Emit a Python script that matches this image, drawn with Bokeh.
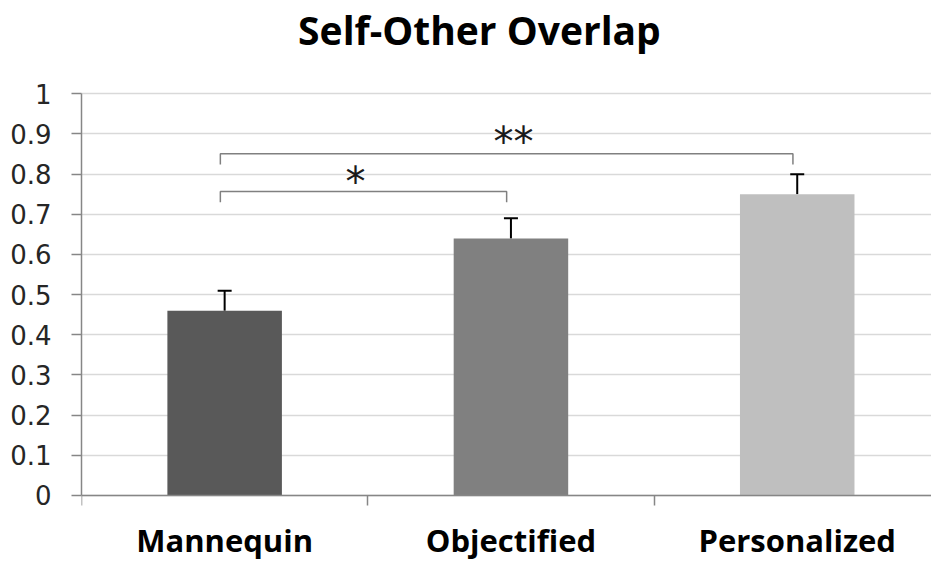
from bokeh.plotting import figure
from bokeh.models import (Range1d, FixedTicker, CustomJSTickFormatter, Whisker,
                          TeeHead, ColumnDataSource, LinearAxis, Label)
from bokeh.core.properties import value
from bokeh.embed import file_html
from bokeh.resources import INLINE

# Data
categories = ["Mannequin", "Objectified", "Personalized"]
means = [0.46, 0.64, 0.75]
errors = [0.05, 0.05, 0.05]
bar_colors = ["#595959", "#808080", "#bfbfbf"]
y_ticks = [0, 0.1, 0.2, 0.3, 0.4, 0.5, 0.6, 0.7, 0.8, 0.9, 1.0]

# Significance brackets: (from category, to category, bracket height, label)
bracket_from = [0, 0]
bracket_to = [1, 2]
bracket_y = [0.757, 0.851]
bracket_labels = ["*", "**"]
star_x = [0.957, 1.509]
star_y = [0.781, 0.881]

title_text = "Self-Other Overlap"

centers = [i + 0.5 for i in range(len(categories))]

# The frame fills the canvas; the value axis is bounded to 0..1 and the
# category axis sits at y = 0, leaving room for the title and names.
p = figure(width=931, height=562, output_backend="svg", toolbar_location=None,
           title=None,
           x_range=Range1d(0, 2.969), y_range=Range1d(-0.1668, 1.2323),
           min_border_left=81, min_border_right=0, min_border_top=0,
           min_border_bottom=0, x_axis_location=None, y_axis_location=None)
p.outline_line_color = None
p.background_fill_color = "white"
p.border_fill_color = "white"

# Y axis
yax = LinearAxis(ticker=FixedTicker(ticks=y_ticks), bounds=(0, 1),
                 formatter=CustomJSTickFormatter(code="return String(+tick.toFixed(1))"))
yax.axis_line_color = "#868686"
yax.axis_line_width = 1.5
yax.major_tick_line_color = "#868686"
yax.major_tick_line_width = 1.5
yax.major_tick_out = 10
yax.major_tick_in = 0
yax.minor_tick_line_color = None
yax.major_label_standoff = 20
yax.major_label_text_font = "DejaVu Sans"
yax.major_label_text_font_size = "26px"
yax.major_label_text_color = "#262626"
p.add_layout(yax, "left")

# X axis at y = 0: category names at centers, tick marks at boundaries
xax = LinearAxis(ticker=FixedTicker(ticks=centers, minor_ticks=[0, 1, 2, 3]),
                 fixed_location=0,
                 major_label_overrides={c: n for c, n in zip(centers, categories)})
xax.axis_line_color = "#868686"
xax.axis_line_width = 1.5
xax.major_tick_line_color = None
xax.major_tick_out = 0
xax.major_tick_in = 0
xax.minor_tick_line_color = "#868686"
xax.minor_tick_line_width = 1.5
xax.minor_tick_out = 10
xax.minor_tick_in = 0
xax.major_label_standoff = 14
xax.major_label_text_font = "Open Sans"
xax.major_label_text_font_style = "bold"
xax.major_label_text_font_size = "31px"
xax.major_label_text_color = "#000000"
p.add_layout(xax, "below")

# Title
p.add_layout(Label(x=1.39, y=1.161, text=title_text, text_align="center",
                   text_baseline="alphabetic", text_font="Open Sans",
                   text_font_style="bold", text_font_size="39px",
                   text_color="#000000"))

# Grid
p.ygrid.ticker = FixedTicker(ticks=y_ticks)
p.ygrid.grid_line_color = "#d9d9d9"
p.ygrid.grid_line_width = 1.5
p.xgrid.grid_line_color = None

# Bars
src = ColumnDataSource(dict(x=centers, top=means, color=bar_colors,
                            upper=[m + e for m, e in zip(means, errors)]))
p.vbar(x="x", top="top", bottom=0, width=0.4, fill_color="color",
       line_color=None, source=src)

# Error bars (upper only)
whisk = Whisker(base="x", lower="top", upper="upper", source=src,
                line_color="black", line_width=2,
                upper_head=TeeHead(size=14, line_color="black", line_width=2),
                lower_head=None)
p.add_layout(whisk)

# Brackets
shift = -0.015
bxs, bys = [], []
for a, b, y in zip(bracket_from, bracket_to, bracket_y):
    xa, xb = centers[a] + shift, centers[b] + shift
    bxs.append([xa, xa, xb, xb])
    bys.append([y - 0.027, y, y, y - 0.027])
p.multi_line(xs=bxs, ys=bys, line_color="#808080", line_width=1.5)

p.text(x=star_x, y=star_y, text=bracket_labels, text_align="center",
       text_baseline="middle", text_font=value("DejaVu Sans"),
       text_font_size="40px", text_color="#1a1a1a")

open("out.html", "w").write(file_html(p, INLINE))
